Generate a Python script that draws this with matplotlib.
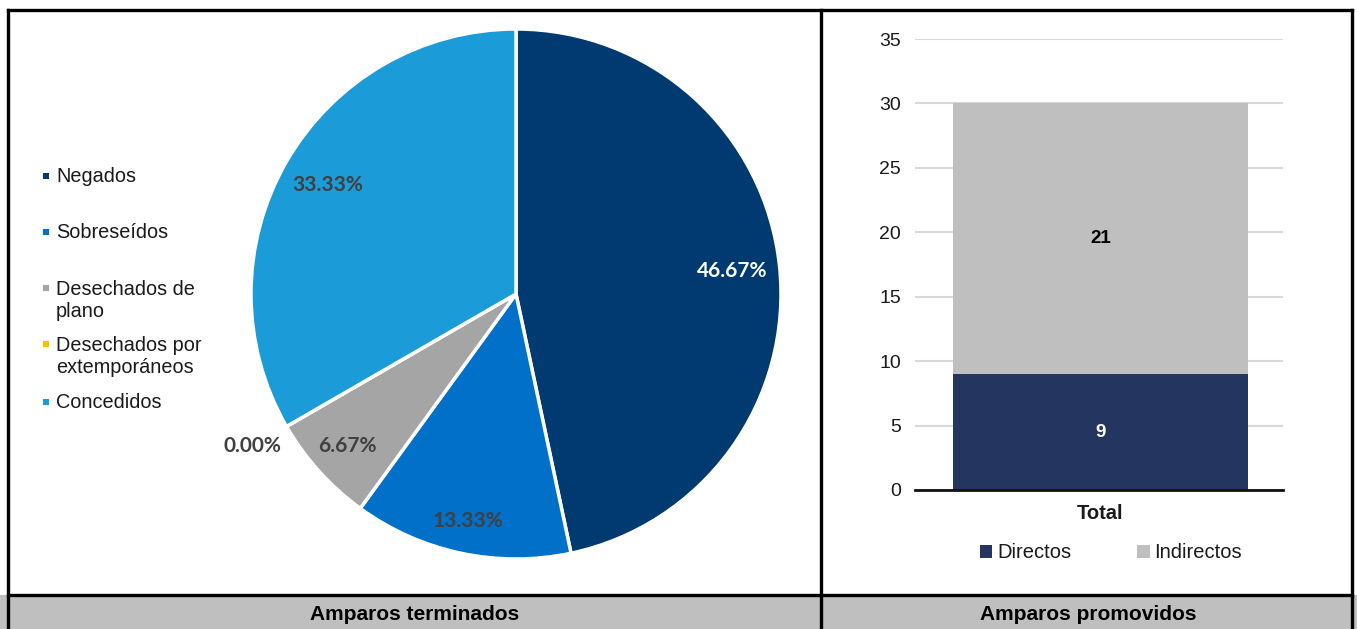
import matplotlib
matplotlib.use("Agg")
import matplotlib.pyplot as plt
from matplotlib.patches import Rectangle
from matplotlib.lines import Line2D
import numpy as np

# ---- data ----
pie_categories = ["Negados", "Sobreseídos", "Desechados de\nplano",
                  "Desechados por\nextemporáneos", "Concedidos"]
pie_values = [46.67, 13.33, 6.67, 0.00, 33.33]
pie_colors = ["#003A70", "#0070C8", "#A5A5A5", "#FFC000", "#1B9BD7"]
pie_label_colors = ["white", "#404040", "#404040", "#404040", "#404040"]
pie_label_dist = [0.82, 0.875, 0.855, 1.15, 0.82]

bar_category = ["Total"]
bar_series = ["Directos", "Indirectos"]
directos = [9]
indirectos = [21]
bar_colors = ["#24365F", "#BFBFBF"]
bar_label_colors = ["white", "black"]
y_ticks = [0, 5, 10, 15, 20, 25, 30, 35]

panel_titles = ["Amparos terminados", "Amparos promovidos"]

W, H = 1357, 629
fig = plt.figure(figsize=(W / 100, H / 100), dpi=100)
fig.patch.set_facecolor("white")
ARIAL = ["Liberation Sans", "DejaVu Sans"]

def fx(px):
    return px / W

def fy(py):
    return 1 - py / H

# ---- pie ----
cx, cy, r = 516, 294, 265
axp = fig.add_axes([fx(cx - r), fy(cy + r), fx(2 * r), (2 * r) / H])
wedges, _ = axp.pie(pie_values, colors=pie_colors, startangle=90, counterclock=False,
                    radius=1, wedgeprops=dict(edgecolor="white", linewidth=2.5))
axp.set_xlim(-1, 1)
axp.set_ylim(-1, 1)
axp.set_aspect("equal")
axp.axis("off")

total = sum(pie_values)
cum = 0
for v, c, d in zip(pie_values, pie_label_colors, pie_label_dist):
    mid = 90 - (cum + v / 2) / total * 360
    cum += v
    a = np.deg2rad(mid)
    axp.text(d * np.cos(a), d * np.sin(a), f"{v:.2f}%", color=c, fontsize=15,
             fontweight="bold", family=["Lato", "DejaVu Sans"], ha="center", va="center")

# pie legend (manual)
leg_y = [176, 232, 288, 344, 402]
line_pitch = 23
for lab, col, yy in zip(pie_categories, pie_colors, leg_y):
    fig.patches.append(Rectangle((fx(43), fy(yy + 3)), fx(6), 6 / H, facecolor=col,
                                 edgecolor="none", transform=fig.transFigure))
    extra = lab.count("\n") * line_pitch
    fig.text(fx(56), fy(yy + 6 + extra), lab, ha="left", va="baseline", fontsize=14.3,
             family=ARIAL, color="#1a1a1a", linespacing=1.17)

# ---- bar ----
axb = fig.add_axes([fx(915), fy(490), fx(368), 451 / H])
x = np.arange(len(bar_category))
axb.bar(x, directos, width=0.8, color=bar_colors[0], zorder=3)
axb.bar(x, indirectos, bottom=directos, width=0.8, color=bar_colors[1], zorder=3)
for i in range(len(bar_category)):
    axb.text(x[i], directos[i] / 2, str(directos[i]), ha="center", va="center",
             color=bar_label_colors[0], fontsize=13.5, fontweight="bold",
             family=ARIAL, zorder=4)
    axb.text(x[i], directos[i] + indirectos[i] / 2, str(indirectos[i]), ha="center",
             va="center", color=bar_label_colors[1], fontsize=13.5, fontweight="bold",
             family=ARIAL, zorder=4)
axb.set_xlim(-0.504, 0.496)
axb.set_ylim(0, 35)
axb.set_yticks(y_ticks)
axb.set_yticklabels([str(t) for t in y_ticks], fontsize=14, family=ARIAL, color="#1a1a1a")
axb.set_xticks(x)
axb.set_xticklabels(bar_category, fontsize=14.5, fontweight="bold", family=ARIAL,
                    color="#1a1a1a")
axb.tick_params(axis="both", length=0)
axb.tick_params(axis="y", pad=10)
axb.tick_params(axis="x", pad=10)
axb.grid(axis="y", color="#D9D9D9", linewidth=1.5, zorder=0)
for s in ["top", "right", "left"]:
    axb.spines[s].set_visible(False)
axb.spines["bottom"].set_color("#111111")
axb.spines["bottom"].set_linewidth(2)
axb.spines["bottom"].set_zorder(5)

handles = [Rectangle((0, 0), 1, 1, facecolor=c, edgecolor="none") for c in bar_colors]
fig.legend(handles, bar_series, loc="center", bbox_to_anchor=(fx(1111), fy(553)), ncol=2,
           frameon=False, handlelength=0.6, handleheight=0.6, handletextpad=0.25,
           columnspacing=3.3, prop=dict(family=ARIAL, size=14.5),
           labelcolor="#1a1a1a")

# ---- frame ----
fig.patches.append(Rectangle((0, 0), fx(1357), fy(595), facecolor="#BFBFBF",
                             edgecolor="none", transform=fig.transFigure, zorder=0))
lw = 2.4
for (x0, y0, x1, y1) in [(8, 10, 1352, 10), (8, 10, 8, 629), (1352, 10, 1352, 629),
                         (821, 10, 821, 629), (8, 595, 1352, 595)]:
    fig.lines.append(Line2D([fx(x0), fx(x1)], [fy(y0), fy(y1)], color="black",
                            linewidth=lw, transform=fig.transFigure, solid_capstyle="projecting"))

for t, xc in zip(panel_titles, [415, 1088]):
    fig.text(fx(xc), fy(614), t, ha="center", va="center", fontsize=15, fontweight="bold",
             family=["Liberation Sans Narrow", "Liberation Sans", "DejaVu Sans"], color="black")

fig.savefig("out.png", dpi=100, facecolor="white")
